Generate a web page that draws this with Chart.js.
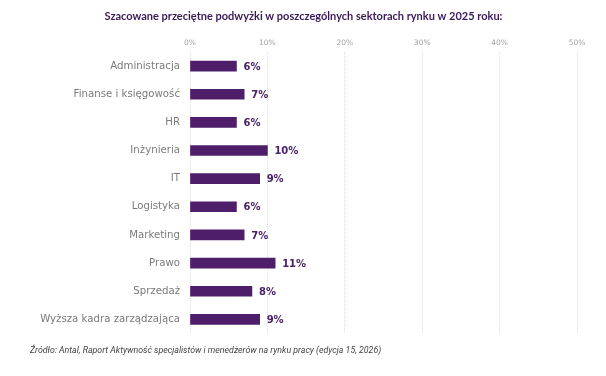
<!DOCTYPE html>
<html>
<head>
<meta charset="utf-8">
<script src="https://cdn.jsdelivr.net/npm/chart.js@4"></script>
<style>
  html, body { margin: 0; padding: 0; background: #fff; }
  #wrap { width: 606px; height: 376px; }
</style>
</head>
<body>
<div id="wrap"><canvas id="podwyzkiChart"></canvas></div>
<script>
const ctx = document.getElementById('podwyzkiChart').getContext('2d');

const labels = [
    "Administracja",
    "Finanse i księgowość",
    "HR",
    "Inżynieria",
    "IT",
    "Logistyka",
    "Marketing",
    "Prawo",
    "Sprzedaż",
    "Wyższa kadra zarządzająca"
]

// średnie podwyżki w %
const values = [6, 7, 6, 10, 9, 6, 7, 11, 8, 9]

const xTicks = [0, 10, 20, 30, 40, 50]

// etykiety wartości przy słupkach
const valueLabels = {
    id: 'valueLabels',
    afterDatasetsDraw(chart) {
        const c = chart.ctx;
        const meta = chart.getDatasetMeta(0);
        c.save();
        c.font = 'bold 10px "DejaVu Sans"';
        c.fillStyle = '#4a2266';
        c.textAlign = 'left';
        c.textBaseline = 'middle';
        meta.data.forEach((bar, i) => {
            c.fillText(values[i] + '%', bar.x + 7, bar.y + 1);
        });
        c.restore();
    }
};

const data = {
    labels: labels,
    datasets: [
        {
            data: values,
            backgroundColor: '#4e1e6b',
            barThickness: 10,
        },
    ],
};

const config = {
    type: 'bar',
    data: data,
    plugins: [valueLabels],
    options: {
        indexAxis: 'y',
        responsive: true,
        maintainAspectRatio: false,
        animation: false,
        layout: {
            padding: { left: 30, right: 29, top: 0, bottom: 0 }
        },
        plugins: {
            legend: false,
            tooltip: { enabled: false },
            title: {
                display: true,
                text: 'Szacowane przeciętne podwyżki w poszczególnych sektorach rynku w 2025 roku:',
                color: '#3b1a58',
                font: { family: 'Lato', size: 11, weight: 'bold' },
                padding: { top: 10, bottom: 6 }
            },
            subtitle: {
                display: true,
                position: 'bottom',
                align: 'start',
                text: 'Źródło: Antal, Raport Aktywność specjalistów i menedżerów na rynku pracy (edycja 15, 2026)',
                color: '#444',
                font: { family: 'Roboto', size: 8.8, style: 'italic' },
                padding: { top: 12, bottom: 20 }
            }
        },
        scales: {
            x: {
                position: 'top',
                min: 0,
                max: 50,
                afterBuildTicks: (axis) => {
                    axis.ticks = xTicks.map(v => ({ value: v }));
                },
                afterFit: (axis) => { axis.height = 22.8; },
                ticks: {
                    color: '#a0a0a0',
                    padding: 4,
                    font: { family: 'DejaVu Sans', size: 7.5 },
                    callback: (v) => v + '%'
                },
                grid: {
                    color: '#dedede',
                    drawTicks: false,
                },
                border: { display: false, dash: [1, 1] }
            },
            y: {
                afterFit: (axis) => { axis.width = 160; },
                ticks: {
                    color: '#7a7a7a',
                    padding: 2,
                    font: { family: 'DejaVu Sans', size: 10.2 }
                },
                grid: { display: false },
                border: { display: false }
            }
        }
    },
};

const podwyzkiChart = new Chart(ctx, config);
</script>
</body>
</html>
